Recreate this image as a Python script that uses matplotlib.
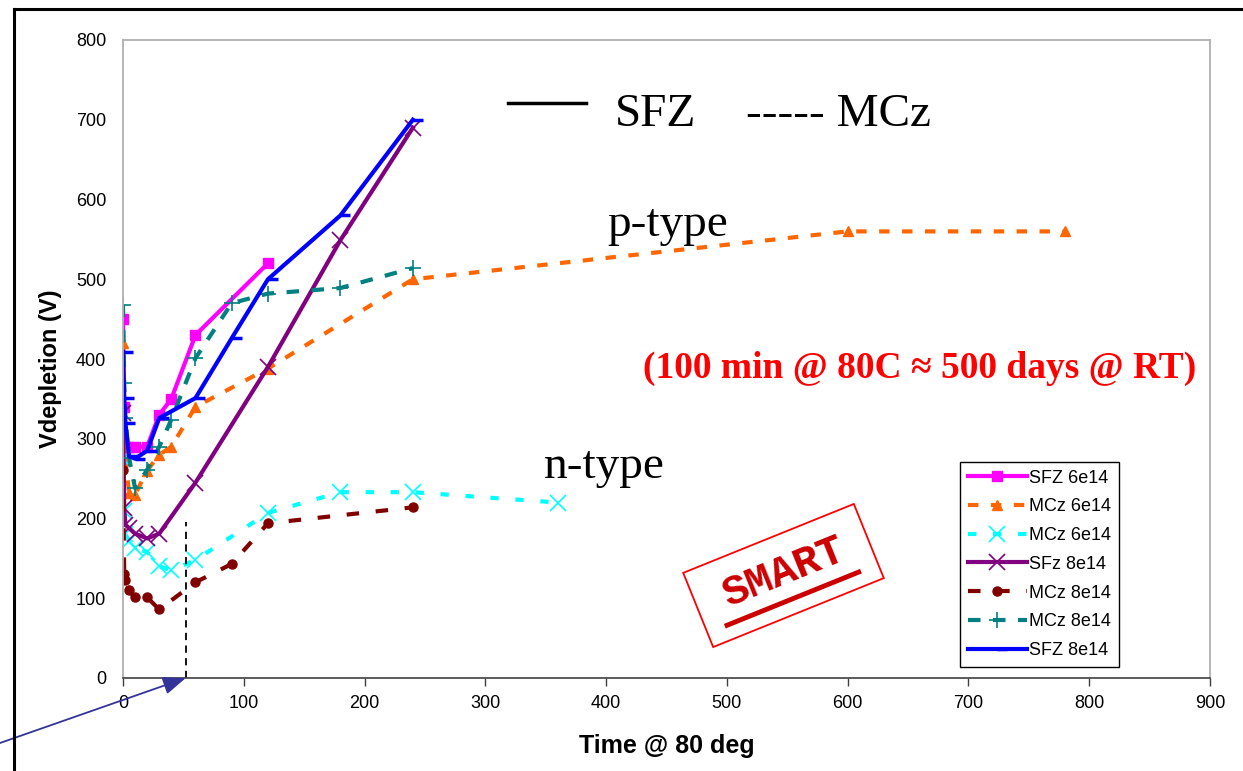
import matplotlib
matplotlib.use("Agg")
import matplotlib.pyplot as plt
import matplotlib.transforms as mtransforms
from matplotlib.patches import Rectangle
from matplotlib.lines import Line2D

# annealing time (min @ 80C) and depletion voltage (V)
t_sfz6 = [0, 1, 2, 5, 10, 20, 30, 40, 60, 120]
v_sfz6 = [450, 340, 290, 290, 290, 290, 330, 350, 430, 520]

t_mcz6a = [0, 1, 5, 10, 20, 30, 40, 60, 120, 240, 600, 780]
v_mcz6a = [420, 290, 232, 230, 260, 280, 290, 340, 388, 500, 560, 560]

t_mcz6b = [0, 1, 2, 5, 10, 20, 30, 40, 60, 120, 180, 240, 360]
v_mcz6b = [275, 210, 180, 172, 163, 158, 140, 135, 148, 207, 233, 233, 220]

t_sfz8 = [0, 1, 2, 5, 10, 20, 30, 60, 120, 180, 240]
v_sfz8 = [332, 213, 192, 188, 181, 175, 181, 245, 390, 549, 690]

t_mcz8a = [0, 1, 2, 5, 10, 20, 30, 60, 90, 120, 240]
v_mcz8a = [261, 130, 123, 110, 101, 101, 86, 120, 143, 194, 214]

t_mcz8b = [0, 1, 2, 5, 10, 20, 30, 40, 60, 90, 120, 180, 240]
v_mcz8b = [468, 370, 326, 276, 238, 261, 290, 324, 401, 470, 482, 489, 514]

t_sfz8b = [0, 1, 2, 5, 10, 20, 30, 60, 90, 120, 180, 240]
v_sfz8b = [409, 351, 320, 278, 275, 285, 326, 351, 426, 500, 580, 700]

W, H = 1243, 771
fig = plt.figure(figsize=(W / 100, H / 100), dpi=100)
ax = fig.add_axes([123 / W, 1 - 678 / H, (1210 - 123) / W, (678 - 40) / H])


def fx(x):
    return x / W


def fy(y):
    return 1 - y / H


ax.plot(t_sfz6, v_sfz6, color="#FF00FF", lw=3, marker="s", ms=6.5, label="SFZ 6e14")
ax.plot(t_mcz6a, v_mcz6a, color="#FF6600", lw=3, ls=(0, (2.5, 3)), marker="^", ms=7.5,
        label="MCz 6e14")
ax.plot(t_mcz6b, v_mcz6b, color="#00FFFF", lw=3, ls=(0, (2, 4)), marker="x", ms=11,
        mew=1.2, label="MCz 6e14")
ax.plot(t_sfz8, v_sfz8, color="#800080", lw=3, marker="x", ms=11, mew=1.2, label="SFz 8e14")
ax.plot(t_mcz8a, v_mcz8a, color="#800000", lw=3, ls=(0, (3, 4)), marker="o", ms=6.5,
        label="MCz 8e14")
ax.plot(t_mcz8b, v_mcz8b, color="#008080", lw=3, ls=(0, (3, 3)), marker="+", ms=12,
        mew=1.2, label="MCz 8e14")
ax.plot(t_sfz8b, v_sfz8b, color="#0000FF", lw=3, marker=1, ms=7, mew=2.5, label="SFZ 8e14")

# dashed marker at ~52 min
ax.plot([52, 52], [0, 195], color="black", lw=1.3, ls=(0, (4, 3)))

ax.set_xlim(0, 900)
ax.set_ylim(0, 800)
ax.set_xticks(range(0, 901, 100))
ax.set_yticks(range(0, 801, 100))
for s in ["left", "top", "right"]:
    ax.spines[s].set_color("#b0b0b0")
    ax.spines[s].set_linewidth(1.3)
ax.spines["bottom"].set_color("#404040")
ax.spines["bottom"].set_linewidth(1.2)
ax.tick_params(axis="x", length=6, width=1, direction="out", labelsize=13, pad=6,
               color="#404040")
ax.tick_params(axis="y", length=0, labelsize=13, pad=12)
for lab in ax.get_xticklabels() + ax.get_yticklabels():
    lab.set_family("Liberation Sans")

ax.set_xlabel("Time @ 80 deg", fontsize=18, fontweight="bold", family="Liberation Sans",
              labelpad=16)
ax.set_ylabel("Vdepletion (V)", fontsize=17, fontweight="bold", family="Liberation Sans",
              labelpad=8)
ax.yaxis.set_label_coords(-0.056, 0.485)

leg = ax.legend(loc="upper left", bbox_to_anchor=(fx(960), fy(462)),
                bbox_transform=fig.transFigure, borderaxespad=0, fancybox=False,
                edgecolor="black", framealpha=1, handlelength=3.3, handletextpad=0.1,
                labelspacing=0.65, borderpad=0.42,
                prop={"family": "Liberation Sans", "size": 13})
leg.get_frame().set_linewidth(1)

# annotations
serif = "Liberation Serif"
fig.add_artist(Line2D([fx(508), fx(586)], [fy(103), fy(103)], color="black", lw=2.5))
fig.text(fx(615), fy(126), "SFZ", fontsize=34, family=serif, va="baseline")
fig.text(fx(746), fy(126), "----- MCz", fontsize=34, family=serif, va="baseline")
fig.text(fx(607), fy(236), "p-type", fontsize=34, family=serif, va="baseline")
fig.text(fx(544), fy(478), "n-type", fontsize=34, family=serif, va="baseline")
fig.text(fx(643), fy(368), "(100 min @ 80C \u2248 500 days @ RT)", fontsize=27,
         family=serif, fontweight="bold", color="#FF0000", va="center")

# SMART stamp
cx, cy = 783.5, H - 575.5
rot = mtransforms.Affine2D().rotate_deg_around(cx, cy, 22)
fig.add_artist(Rectangle((cx - 92, cy - 40), 184, 80, fill=False, edgecolor="#FF0000",
                         lw=1.3, transform=rot))
fig.add_artist(Line2D([cx - 71, cx + 71], [cy - 25, cy - 25], color="#CC0000", lw=3.5,
                      transform=rot))
fig.text(fx(cx), cy / H + 0.004, "SMART", fontsize=31, family="Liberation Mono",
         fontweight="bold", color="#CC0000", rotation=22, ha="center", va="center",
         rotation_mode="anchor")

# arrow from outside the frame to the x-axis
ax.annotate("", xy=(52, 0), xycoords="data", xytext=(0, fy(743)), textcoords="figure fraction",
            arrowprops=dict(arrowstyle="-|>,head_length=1.4,head_width=0.55", color="#333399",
                            lw=1.3, shrinkA=0, shrinkB=0), annotation_clip=False)

# outer frame (left and top)
fig.add_artist(Line2D([fx(13.5), fx(13.5)], [0, fy(8.5)], color="black", lw=2.2))
fig.add_artist(Line2D([fx(13.5), 1], [fy(8.5), fy(8.5)], color="black", lw=2.2))

fig.savefig("out.png", dpi=100)
